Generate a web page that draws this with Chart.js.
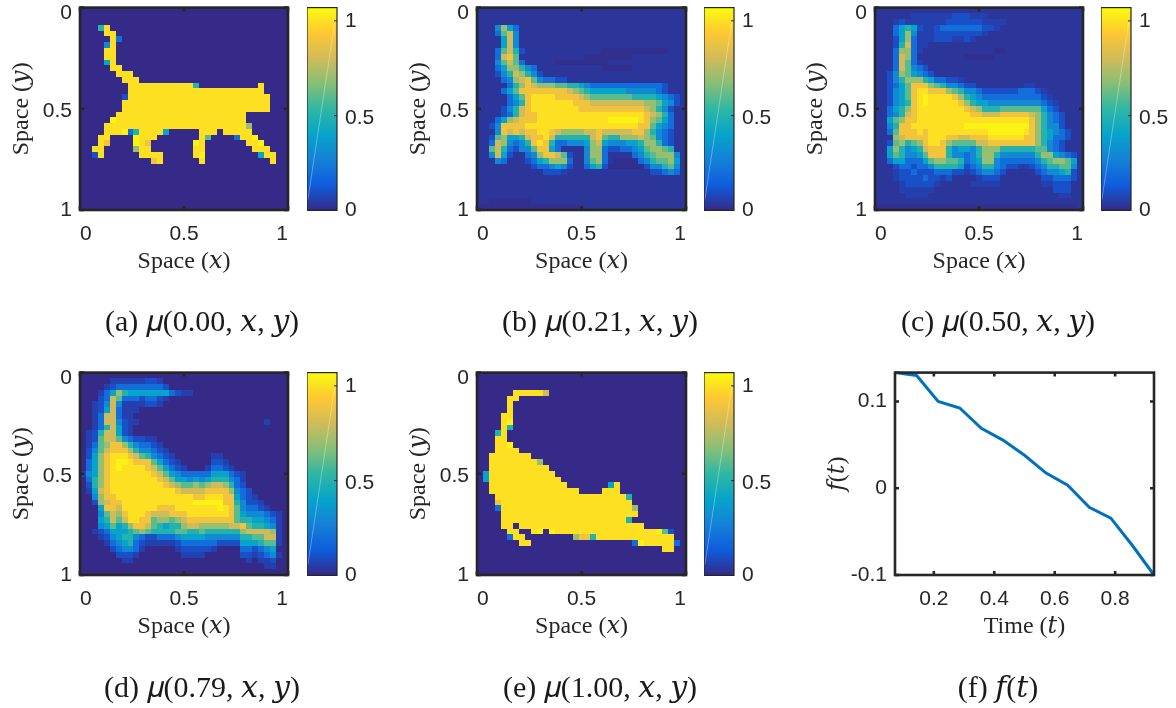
<!DOCTYPE html>
<html><head><meta charset="utf-8">
<script src="https://cdn.jsdelivr.net/npm/chart.js@4"></script>
<style>html,body{margin:0;background:#fff;overflow:hidden;width:1176px;height:708px}canvas{position:absolute;filter:blur(0.45px)}</style>
</head><body>
<script>
const gridSize = 35;
const spaceTicks = [0, 0.5, 1];
const spaceLabelAnchors = [0.03, 0.512, 1];
const colorbarTicks = [0, 0.5, 1];
const colorbarLabelAnchors = [0, 0.485, 1];
const colorbarMax = 1.07;
const parulaStops = ["#352a87","#0f5cdd","#1481d6","#06a4ca","#2eb7a4","#87bf77","#d1bb59","#fec832","#f9fb0e"];
const cellLevels = {'.':0, ':':0.015, ',':0.03, ';':0.06, '1':0.1, '2':0.2, '3':0.3, '4':0.4, '5':0.5, '6':0.6, '7':0.7, '8':0.8, '9':0.9, 'a':1.0, 'b':1.05};

const muT000 = ["","","","...5a","....aa",".....a2","....3a","....aa","....aa","....4a",".....aa","......aaa",".......aaa",
"........aaaaaaaaaaa5..........a","........aaaaaaaaaaaaaaaaaaaaaaa",".......1aaaaaaaaaaaaaaaaaaaaaaaa",".......aaaaaaaaaaaaaaaaaaaaaaaaa",".......aaaaaaaaaaaaaaaaaaaaaaaaa",
"......aaaaaaaaaaaaaaaaaaaaaa",".....baaaaaaaaaaaaaaaaaaaaaa","....aaaaaaaaaaaaaaaaaaaaaaaa7","....aaab25aaaa4.....aaa.aaaaa","...aa....baaa.......a6....2aab",
"...a9....ba9.......ba.......aab","..aa.....7aa.......aa........aaa","..1a......aaaa.....ab.........4aa","............9a......a...........a"];

const muT021 = ["","","",",,,3742",",,,2683",",,,,483",",,,,483",",,,26851,,,,,,,,,,,,,:::::::::::",",,,2896,,,,,,,,,,,::::::::",",,,36862,,,,,:::::::::",",,,2477532,,,,,,,,,,,:::::",",,,13587531",",,,,23789632211",
",,,,,257987776655432222222222221",",,,,2469999999987654444443333321",",,,,,2469aaaa999987666666655554321",
",,,,,2359aaaaaaa999888888888776431",",,,,13589aaaaaaaa9999999999987531",
",,,,125899aaaaaaaaaaaaaaaaaa98752",",,,2478999aaaaaaaaaaaabbbbba97642",",,139999aaaaaaaaaaaaaaaaaaa996432",",,,3989899aa987777889888889975321",
",,167445899a855555589655777876321",",,28732359a9522333478433344577521",",,685213369942,,,,377211223467765",",,3841,,23799861,,3772,,,,23567773",
",,,32,,,12457772,,3672,::::2356674",",,,,,,,,,1223431,,2451::::::133563",",,,,,,,,,,,111;,,,,,,,,,,,,,,11232","","","","",",,:::::::","::::::::::::::::::"];

const muT050 = ["",",,,,,,;;;;;;;111;;;",",,,;1;;;;;;;111111;;;;",",,,24541;;1222222211;",",,,2473;;;11111111;",",,,1472;;;111;;1;",",,,1582;;",",,,2772;,,,,,,,,,,,,::",",,,2872,,,,,,,,:::::",",,,2862;",",,,286321",",,13764321",",,135777542211;",
",,124699976533211,,,,,,,,;;",",,13469aa9997653321111112221;",",,13469abaaaa9754322222222221;",",,13459abaaaaa9754433333333321;",",,24579aaaaaaaa9875556666666421",",,23589aaaaaaaaa9988899999875321",
",,46799aaaaaaaaaaaaaaaaaaa975321",",,3599aaaaaaaaabbbbbbbbbbb975331",",,26999a9aaaaaaaaaabbbbbba9754321",",,,789999aaa9988999aaaaaa99754221",",,1675679aa976666889999999975321",",,475345899953443577755555566321",
",,46533469995332357753333335774321",",,24422246776652347732222223567764",",,,122122355554123553211;;12355663",",,,;11211122211;123321,,,,,1233451",",,,;1111211;1,,,,;111,,,,,,,112221",",,,,;11111;,,,,,;;;;;,,,,,,,;;111",",,,,;;;;;;,,,,,,,,,,,,,,,,,,,,111",",,,,,;;;;,,,,,,,,,,,,,,,,,,,,,,;;",",,","::::::::::::::::::::::::::::::::::"];

const muT079 = ["",".....;;;;;;11;","....;1222222221","...;2475444444421;;","...12862221221;","..;1383;;;;11;","..;1482;;;","..;2882;;","..;28831;;.....................;","..;25841;",".;158841;",".;168863211;;",".;26799753221;",".1368999753321;",
".1479aaa9865321;......;;",".2479abba9996421;.....11;",".2479abaaaa986421;...;221;",";3479aaaaaaa986432222244421;",".2579aaaaaaaa98644343455532;",".1579aaaaaaaaa98766767887521",".;489aaaaaaaaaaa9888899997321",
"..3799aaaaaaaaaaaaa99aaa99421;","..17899aaaaaaaaaaaabbbbb995311;","...4998aaaaaa999aaaaaaaba963221;","...36879aaa9888999aaaaaaa96433321;","...45868aa99677678999999996554432;","...346457998654557887777788965543;",
"..;124445676555566556555555788887;","...;13455321122234444333333556688;","....;234521;;;;;12222221111444566;",".....12332;.....;11111;....221234","......111;.......;;;;......11;123;",".......;;...................;.;;1","...............................;;",""];

const muT100 = ["","","","......aaaaa8",".....aa",".....a",".....a","....aa","....ab","....a5","...5a","...aa","...aab","...aaaa","..aaaaaaa","..aaaaaaaa7","..aaaaaaaaaa",".4aaaaaaaaaaa",".4aaaaaaaaaaaa",
"..aaaaaaaaaaaaa.......4a","..aaaaaaaaaaaaaaa....aaa","...aaaaaaaaaaaaaaaaaaaaaa5","...9aaaaaaaaaaaaaaaaaaaaaa","...2aaaaaaaaaaaaaaaaaaaaaa7","....aaaaaaaaaaaaaaaaaaaaaaa","....aaaaaaaaaaaaaaaaaaaaa5",
"....aa.aaaaaaaaaaaaaaaaaaaaa",".....aa..ab.baaaaaaaaaaaaaaaaab61",".....2aa........7995aaaaaaaaaaaaa",".......aa.................2baaaaa2","...............................aa"];

const fTimes = [0.0714,0.1429,0.2143,0.2857,0.3571,0.4286,0.5,0.5714,0.6429,0.7143,0.7857,0.8571,0.9286];
const fValues = [0.1333,0.130,0.100,0.0925,0.069,0.0555,0.038,0.0175,0.0035,-0.022,-0.0345,-0.066,-0.1];
const fTimeTicks = [0.2,0.4,0.6,0.8];
const fValueTicks = [-0.1,0,0.1];

const INK = '#262626', SANS = "'Liberation Sans', Arial, sans-serif", SERIF = "'Liberation Serif', 'DejaVu Serif', serif";
const CAP_SIZE = 30, CAP_LH = CAP_SIZE*1.2, AX_SIZE = 24, AX_LH = AX_SIZE*1.2, CW = 400, TOPPAD = 20, TICK_SIZE = 21;

function hex(h){return [1,3,5].map(i=>parseInt(h.substr(i,2),16));}
function parula(t){t=Math.max(0,Math.min(1,t));const p=t*(parulaStops.length-1),i=Math.min(Math.floor(p),parulaStops.length-2),f=p-i,a=hex(parulaStops[i]),b=hex(parulaStops[i+1]);
  return 'rgb('+a.map((v,k)=>Math.round(v+(b[k]-v)*f)).join(',')+')';}

const framePlugin = {id:'frame', afterDatasetsDraw(chart,_,o){
  const {ctx,chartArea:a,scales}=chart, x=scales.x, y=scales.y;
  ctx.save(); ctx.strokeStyle=INK; ctx.lineWidth=o.width; ctx.strokeRect(a.left,a.top,a.right-a.left,a.bottom-a.top);
  ctx.lineWidth=o.tickWidth; ctx.beginPath();
  if(!o.rightOnly){ for(const v of o.xMarks){const p=x.getPixelForValue(v);ctx.moveTo(p,a.top);ctx.lineTo(p,a.top+o.tick);ctx.moveTo(p,a.bottom);ctx.lineTo(p,a.bottom-o.tick);} }
  for(const v of o.yMarks){const p=y.getPixelForValue(v); if(!o.rightOnly){ctx.moveTo(a.left,p);ctx.lineTo(a.left+o.tick,p);} ctx.moveTo(a.right,p);ctx.lineTo(a.right-o.tick,p);}
  ctx.stroke(); ctx.restore();
}};
/* keeps heat-map cells on whole pixels so neighbouring cells show no seams */
const snapPlugin = {id:'snap', afterDatasetsUpdate(chart,_,o){
  if(!o.on) return;
  for(const el of chart.getDatasetMeta(0).data){el.x=Math.round(el.x);el.y=Math.round(el.y);}
}};

function mkCanvas(l,t,w,h){const c=document.createElement('canvas');c.width=w;c.height=h;c.style.left=l+'px';c.style.top=t+'px';c.style.width=w+'px';c.style.height=h+'px';document.body.appendChild(c);return c;}
function setTicks(arr){return s=>{s.ticks=arr.map(v=>({value:v}));};}
const halfStep = v => String(Math.round(v*2)/2);

function panelChart(p){
  const left=p.capC-CW/2, top=p.plot.t-TOPPAD;
  const H=p.capY+CAP_LH/2-top;
  const c=mkCanvas(left,top,CW,Math.ceil(H));
  const xBoxH=p.capY-CAP_LH/2-p.plot.b;
  const rightGap=left+CW-p.plot.r;
  const scaleCommon={grid:{display:false,drawTicks:false},border:{display:false}};
  return new Chart(c,{
    type:'scatter',
    data:{datasets:p.datasets},
    options:{
      responsive:false,animation:false,events:[],devicePixelRatio:1,
      layout:{padding:{top:TOPPAD,right:0,bottom:0,left:0}},
      plugins:{legend:{display:false},tooltip:{enabled:false},
        title:{display:true,text:p.caption,position:'bottom',color:'#1a1a1a',padding:0,font:{family:SERIF,size:CAP_SIZE,weight:'normal',lineHeight:1.2}},
        frame:{width:2.6,tickWidth:2.6,tick:4,xMarks:p.xt,yMarks:p.yt},snap:{on:!!p.xInner}},
      scales:{
        x:Object.assign({},scaleCommon,{type:'linear',min:p.xr[0],max:p.xr[1],afterBuildTicks:setTicks(p.xt),afterFit(s){s.height=xBoxH;},
          ticks:{color:INK,font:{family:SANS,size:TICK_SIZE},padding:12,maxRotation:0,autoSkip:false,align:p.xInner?'inner':'center',callback:v=>String(v)},
          title:{display:true,text:p.xTitle,color:INK,font:{family:SERIF,size:AX_SIZE,lineHeight:1.2},padding:{top:0,bottom:p.capY-CAP_LH/2-p.xTitleY-AX_LH/2}}}),
        y:Object.assign({},scaleCommon,{type:'linear',reverse:!!p.yRev,min:p.yr[0],max:p.yr[1],afterBuildTicks:setTicks(p.yLabelAt||p.yt),afterFit(s){s.width=p.plot.l-left;},
          ticks:{color:INK,font:{family:SANS,size:TICK_SIZE},padding:8,autoSkip:false,callback:p.yLabelAt?halfStep:(v=>String(v))},
          title:{display:true,text:p.yTitle,color:INK,font:{family:SERIF,size:AX_SIZE,lineHeight:1.2},padding:{top:p.yTitleX-left-AX_LH/2,bottom:0}}}),
        gap:{position:'right',type:'linear',grid:{display:false,drawTicks:false},border:{display:false},ticks:{display:false},afterFit(s){s.width=rightGap;}}
      }
    },
    plugins:[snapPlugin,framePlugin]
  });
}

function heatPanel(rows,pad,plot,capC,capY,yTitleX,xTitleY,caption){
  const pts=[],cols=[];
  rows.forEach((row,r)=>{const s=row.padEnd(gridSize,pad).slice(0,gridSize);
    for(let k=0;k<gridSize;k++){pts.push({x:(k+.5)/gridSize,y:(r+.5)/gridSize});cols.push(parula(cellLevels[s[k]]/colorbarMax));}});
  for(let r=rows.length;r<gridSize;r++)for(let k=0;k<gridSize;k++){pts.push({x:(k+.5)/gridSize,y:(r+.5)/gridSize});cols.push(parula(cellLevels[pad]/colorbarMax));}
  panelChart({plot,capC,capY,yTitleX,xTitleY,caption,xr:[0,1],yr:[0,1],xt:spaceTicks,yt:spaceTicks,yLabelAt:spaceLabelAnchors,yRev:true,xInner:true,
    xTitle:'Space (𝑥)',yTitle:'Space (𝑦)',
    datasets:[{data:pts,pointStyle:'rect',pointRadius:6/Math.SQRT2,pointBorderWidth:0,pointBackgroundColor:cols,showLine:false}]});
}

function colorbar(l,r,t,b){
  const c=mkCanvas(l,t-TOPPAD,r-l+45,b-t+TOPPAD+20);
  new Chart(c,{type:'bar',
    data:{datasets:[
      {type:'line',data:[{x:0.03,y:0.057},{x:0.93,y:1.0}],borderColor:'rgba(255,255,255,0.32)',borderWidth:1,pointRadius:0,order:0},
      {data:[{x:0.5,y:colorbarMax}],barThickness:r-l,order:1,backgroundColor(ctx){
        const a=ctx.chart.chartArea; if(!a) return parulaStops[0];
        const g=ctx.chart.ctx.createLinearGradient(0,a.bottom,0,a.top);
        parulaStops.forEach((h,i)=>g.addColorStop(i/(parulaStops.length-1),h)); return g;}}]},
    options:{responsive:false,animation:false,events:[],devicePixelRatio:1,
      layout:{padding:{top:TOPPAD,bottom:20,left:0,right:0}},
      plugins:{legend:{display:false},tooltip:{enabled:false},frame:{width:1.2,tickWidth:1,tick:3,rightOnly:true,xMarks:[],yMarks:colorbarTicks}},
      scales:{
        x:{display:false,type:'linear',min:0,max:1,offset:false},
        y:{type:'linear',position:'right',min:0,max:colorbarMax,grid:{display:false,drawTicks:false},border:{display:false},afterBuildTicks:setTicks(colorbarLabelAnchors),afterFit(s){s.width=45;},
           ticks:{color:INK,font:{family:SANS,size:TICK_SIZE},padding:8,autoSkip:false,callback:halfStep}}
      }},
    plugins:[framePlugin]});
}

const P=(l,r,t,b)=>({l,r,t,b});
heatPanel(muT000,'.',P(80,288,7,210),202,323,22,262,'(a) 𝜇(0.00, 𝑥, 𝑦)');
heatPanel(muT021,',',P(477,686,7,210),600,323,419,262,'(b) 𝜇(0.21, 𝑥, 𝑦)');
heatPanel(muT050,',',P(875,1083,7,210),998,323,816,262,'(c) 𝜇(0.50, 𝑥, 𝑦)');
heatPanel(muT079,'.',P(80,288,372,575),202,689,22,627,'(d) 𝜇(0.79, 𝑥, 𝑦)');
heatPanel(muT100,'.',P(477,686,372,575),600,689,419,627,'(e) 𝜇(1.00, 𝑥, 𝑦)');
colorbar(307,337,7,211);colorbar(704,734,7,211);colorbar(1101,1131,7,211);colorbar(307,337,372,576);colorbar(704,734,372,576);

panelChart({plot:P(895,1154,372,575),capC:998,capY:689,yTitleX:838,xTitleY:627,caption:'(f) 𝑓(𝑡)',
  xr:[fTimes[0],fTimes[fTimes.length-1]],yr:[-0.1,0.1333],xt:fTimeTicks,yt:fValueTicks,xTitle:'Time (𝑡)',yTitle:'𝑓(𝑡)',
  datasets:[{data:fTimes.map((t,i)=>({x:t,y:fValues[i]})),showLine:true,borderColor:'#0072BD',borderWidth:3,pointRadius:0,tension:0,clip:false}]});
</script>
</body></html>
